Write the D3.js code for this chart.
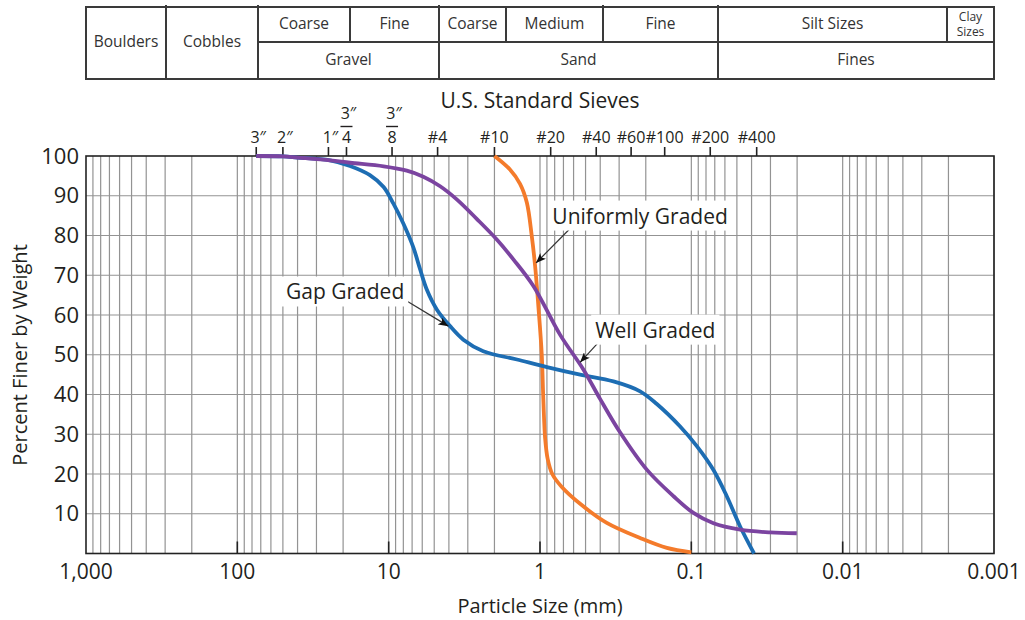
<!DOCTYPE html>
<html><head><meta charset="utf-8">
<script src="https://cdn.jsdelivr.net/npm/d3@7"></script>
<style>
body{margin:0;background:#fff}
text{font-family:"Open Sans",sans-serif;fill:#231f20}
</style>
</head><body>
<svg id="c" width="1025" height="620"></svg>
<script>
// ---------- data ----------
const xDecades = [1000, 100, 10, 1, 0.1, 0.01, 0.001];
const xTickLabels = ["1,000", "100", "10", "1", "0.1", "0.01", "0.001"];
const yTicks = [10, 20, 30, 40, 50, 60, 70, 80, 90, 100];
const sieveSizes = [75, 50, 25, 19, 9.5, 4.75, 2.0, 0.85, 0.425, 0.25, 0.15, 0.075, 0.037];
const sieveLabels = ["3″", "2″", "1″", "3″/4", "3″/8", "#4", "#10", "#20", "#40", "#60", "#100", "#200", "#400"];

const gapSize = [75, 50, 40, 24.4, 18, 13.3, 10.8, 9.3, 8.0, 6.87, 6.2, 5.6, 4.81, 3.93, 3.21, 2.37, 1.42, 0.90, 0.543, 0.327, 0.218, 0.169, 0.119, 0.092, 0.0714, 0.0583, 0.0476, 0.0385];
const gapPct  = [100, 99.9, 99.6, 98.9, 97.5, 95.2, 92.2, 88, 83, 77, 71.5, 66.4, 61.4, 57.2, 53.8, 50.9, 48.8, 46.9, 45, 43.3, 40.8, 37.6, 32, 27, 21, 14.4, 6.8, 0];

const wellSize = [75, 50, 40, 24.4, 18, 10.8, 7.59, 5.90, 4.57, 3.55, 2.62, 1.93, 1.50, 1.106, 0.736, 0.517, 0.401, 0.296, 0.197, 0.131, 0.0969, 0.0714, 0.0476, 0.0301, 0.0201];
const wellPct  = [100, 99.9, 99.6, 98.9, 98.3, 97.4, 96.3, 94.8, 92.4, 89.1, 84.2, 79, 74, 67.3, 55, 46.3, 38.9, 30.5, 21.1, 14.4, 10.2, 7.6, 6.0, 5.3, 5.1];

const uniSize = [2.0, 1.58, 1.355, 1.222, 1.133, 1.077, 1.025, 0.975, 0.950, 0.925, 0.890, 0.830, 0.720, 0.543, 0.362, 0.218, 0.145, 0.100];
const uniPct  = [100, 96.6, 93.0, 88.3, 79.8, 72.3, 62.2, 50.5, 38.5, 29.0, 23.8, 20.0, 16.8, 12.5, 7.7, 3.9, 1.4, 0.3];

const seriesNames = ["Gap Graded", "Well Graded", "Uniformly Graded"];
const seriesColors = ["#1d6db3", "#7b44a0", "#f47b2b"];

// annotations: label position (mm, %), arrow tail (mm,%), arrow tip (mm,%)
const annLabel = ["Gap Graded", "Well Graded", "Uniformly Graded"];
const annText = [[19.4, 63.9], [0.173, 54.3], [0.218, 83.0]];
const annTail = [[7.59, 63.5], [0.418, 52.8], [0.616, 82.2]];
const annTip  = [[4.03, 57.2], [0.543, 48.1], [1.062, 73.1]];

// classification table
const tableLeftCells = ["Boulders", "Cobbles"];
const tableSubCells = ["Coarse", "Fine", "Coarse", "Medium", "Fine", "Silt Sizes", "Clay Sizes"];
const tableGroupCells = ["Gravel", "Sand", "Fines"];

// ---------- layout ----------
const svg = d3.select("#c");
const L = 86, R = 994, T = 156, B = 553.5;
const x = d3.scaleLog().domain([1000, 0.001]).range([L, R]);
const y = d3.scaleLinear().domain([0, 100]).range([B, T]);

// table geometry (pixels)
const tT = 7, tM = 42, tB = 79;
const leftEdges = [86, 166, 258];
const subEdges = [258, 350, 439, 506, 603, 718, 947, 994];
const groupEdges = [258, 439, 718, 994];

const tg = svg.append("g");
const tStroke = "#3a3a3a";
const tFont = "15.5px";
tg.append("rect").attr("x", 86).attr("y", tT).attr("width", 994 - 86).attr("height", tB - tT)
  .attr("fill", "none").attr("stroke", tStroke).attr("stroke-width", 2);
tg.append("line").attr("x1", 258).attr("x2", 994).attr("y1", tM).attr("y2", tM).attr("stroke", tStroke).attr("stroke-width", 2);
[166, 258, 439, 718].forEach(v => tg.append("line").attr("x1", v).attr("x2", v).attr("y1", tT - 2).attr("y2", tB).attr("stroke", tStroke).attr("stroke-width", 2));
[350, 506, 947].forEach(v => tg.append("line").attr("x1", v).attr("x2", v).attr("y1", tT).attr("y2", tM).attr("stroke", tStroke).attr("stroke-width", 2));
tg.append("line").attr("x1", 603).attr("x2", 603).attr("y1", tT - 2).attr("y2", tM).attr("stroke", tStroke).attr("stroke-width", 2);

tableLeftCells.forEach((t, i) => {
  tg.append("text").attr("x", (leftEdges[i] + leftEdges[i + 1]) / 2).attr("y", (tT + tB) / 2 - 1)
    .attr("text-anchor", "middle").attr("dy", "0.35em").style("font-size", tFont).style("fill", "#333").text(t);
});
tableSubCells.forEach((t, i) => {
  const cx = (subEdges[i] + subEdges[i + 1]) / 2;
  if (t === "Clay Sizes") {
    const parts = t.split(" ");
    parts.forEach((p, j) => tg.append("text").attr("x", cx).attr("y", 20.5 + j * 15)
      .attr("text-anchor", "middle").style("font-size", "12px").style("fill", "#333").text(p));
  } else {
    tg.append("text").attr("x", cx).attr("y", (tT + tM) / 2 - 1).attr("text-anchor", "middle").attr("dy", "0.35em")
      .style("font-size", tFont).style("fill", "#333").text(t);
  }
});
tableGroupCells.forEach((t, i) => {
  tg.append("text").attr("x", (groupEdges[i] + groupEdges[i + 1]) / 2).attr("y", (tM + tB) / 2 - 1)
    .attr("text-anchor", "middle").attr("dy", "0.35em").style("font-size", tFont).style("fill", "#333").text(t);
});

// ---------- grid ----------
const grid = svg.append("g");
const vGrid = [];
for (let k = -3; k <= 2; k++) for (let m = 1; m <= 9; m++) vGrid.push(m * Math.pow(10, k));
grid.selectAll("line.v").data(vGrid).join("line")
  .attr("x1", d => x(d)).attr("x2", d => x(d)).attr("y1", T).attr("y2", B)
  .attr("stroke", "#939393").attr("stroke-width", 1.2);
grid.selectAll("line.h").data(yTicks.slice(0, -1)).join("line")
  .attr("x1", L).attr("x2", R).attr("y1", d => y(d)).attr("y2", d => y(d))
  .attr("stroke", "#939393").attr("stroke-width", 1.2);

// frame
svg.append("rect").attr("x", L).attr("y", T).attr("width", R - L).attr("height", B - T)
  .attr("fill", "none").attr("stroke", "#222").attr("stroke-width", 1.6);

// bottom decade ticks (inward)
svg.append("g").selectAll("line").data(xDecades.slice(1, -1)).join("line")
  .attr("x1", d => x(d)).attr("x2", d => x(d)).attr("y1", B).attr("y2", B - 12)
  .attr("stroke", "#222").attr("stroke-width", 1.6);

// bottom labels
svg.append("g").selectAll("text").data(xDecades).join("text")
  .attr("x", d => x(d)).attr("y", 572).attr("dy", "0.35em").attr("text-anchor", "middle")
  .style("font-size", "21px").text((d, i) => xTickLabels[i]);

// y labels
svg.append("g").selectAll("text").data(yTicks).join("text")
  .attr("x", 79).attr("y", d => y(d)).attr("dy", "0.35em").attr("text-anchor", "end")
  .style("font-size", "22px").text(d => d);

// axis titles
svg.append("text").attr("x", 540).attr("y", 606).attr("dy", "0.35em").attr("text-anchor", "middle")
  .style("font-size", "20px").text("Particle Size (mm)");
svg.append("text").attr("transform", "translate(20,355) rotate(-90)").attr("dy", "0.35em").attr("text-anchor", "middle")
  .style("font-size", "20px").text("Percent Finer by Weight");
svg.append("text").attr("x", 540).attr("y", 101).attr("dy", "0.35em").attr("text-anchor", "middle")
  .style("font-size", "21px").text("U.S. Standard Sieves");

// sieve ticks (top, outward)
const sg = svg.append("g");
sg.selectAll("line").data(sieveSizes).join("line")
  .attr("x1", d => x(d)).attr("x2", d => x(d)).attr("y1", T).attr("y2", T - 9)
  .attr("stroke", "#222").attr("stroke-width", 1.6);
sieveSizes.forEach((s, i) => {
  const lab = sieveLabels[i];
  const cx = x(s);
  if (lab.includes("/")) {
    const [num, den] = lab.split("/");
    sg.append("text").attr("x", cx + 2).attr("y", 113).attr("dy", "0.35em").attr("text-anchor", "middle").style("font-size", "16px").text(num);
    sg.append("line").attr("x1", cx - 6).attr("x2", cx + 6).attr("y1", 126.5).attr("y2", 126.5).attr("stroke", "#231f20").attr("stroke-width", 1.4);
    sg.append("text").attr("x", cx).attr("y", 137).attr("dy", "0.35em").attr("text-anchor", "middle").style("font-size", "16px").text(den);
  } else {
    sg.append("text").attr("x", cx + (lab.includes("″") ? 2 : 0)).attr("y", 137).attr("dy", "0.35em")
      .attr("text-anchor", "middle").style("font-size", "16px").text(lab);
  }
});

// ---------- curves ----------
const line = d3.line().x(d => x(d[0])).y(d => y(d[1])).curve(d3.curveCatmullRom.alpha(0.5));
const seriesData = [
  d3.zip(gapSize, gapPct),
  d3.zip(wellSize, wellPct),
  d3.zip(uniSize, uniPct)
];
const order = [2, 0, 1];
order.forEach(i => {
  svg.append("path").datum(seriesData[i]).attr("d", line)
    .attr("fill", "none").attr("stroke", seriesColors[i]).attr("stroke-width", 3.8)
    .attr("stroke-linecap", "butt").attr("stroke-linejoin", "round");
});

// ---------- annotations ----------
svg.append("defs").append("marker").attr("id", "arr")
  .attr("markerUnits", "userSpaceOnUse").attr("markerWidth", 11).attr("markerHeight", 8)
  .attr("refX", 10).attr("refY", 4).attr("orient", "auto")
  .append("path").attr("d", "M0,0 L10,4 L0,8 L2.5,4 z").attr("fill", "#111");

const ag = svg.append("g");
annLabel.forEach((t, i) => {
  ag.append("line").attr("x1", x(annTail[i][0])).attr("y1", y(annTail[i][1]))
    .attr("x2", x(annTip[i][0])).attr("y2", y(annTip[i][1]))
    .attr("stroke", "#333").attr("stroke-width", 1.2).attr("marker-end", "url(#arr)");
  const g = ag.append("g");
  const bg = g.append("rect").attr("fill", "#fff");
  const tx = g.append("text").attr("x", x(annText[i][0])).attr("y", y(annText[i][1]))
    .attr("text-anchor", "middle").style("font-size", "21px").text(t);
  const bb = tx.node().getBBox();
  bg.attr("x", bb.x - 4).attr("y", bb.y - 1).attr("width", bb.width + 8).attr("height", bb.height + 2);
});
</script>
</body></html>
